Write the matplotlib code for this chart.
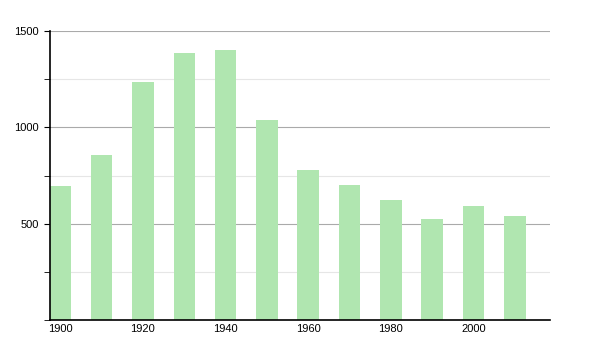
import matplotlib
matplotlib.use("Agg")
import matplotlib.pyplot as plt
from matplotlib.ticker import MultipleLocator

# population by decade
years = [1900, 1910, 1920, 1930, 1940, 1950, 1960, 1970, 1980, 1990, 2000, 2010]
values = [696, 857, 1236, 1386, 1402, 1038, 779, 701, 623, 524, 592, 540]
tick_years = [1900, 1920, 1940, 1960, 1980, 2000]

plt.rcParams['font.family'] = ['Liberation Sans', 'DejaVu Sans']

fig = plt.figure(figsize=(6, 3.5), dpi=100)
ax = fig.add_axes([0.0833, 0.0857, 0.8333, 0.8257])

ax.bar(years, values, width=5.2, color='#b0e6b0', zorder=2)

ax.set_xlim(1897.5, 2018.5)
ax.set_ylim(0, 1500)
ax.yaxis.set_major_locator(MultipleLocator(500))
ax.yaxis.set_minor_locator(MultipleLocator(250))
ax.set_yticks([500, 1000, 1500])
ax.set_xticks(tick_years)
ax.set_xticklabels([str(y) for y in tick_years])

ax.grid(axis='y', which='major', color='#aaaaaa', linewidth=0.8, zorder=1)
ax.grid(axis='y', which='minor', color='#e6e6e6', linewidth=0.8, zorder=1)
ax.set_axisbelow(True)

for s in ['top', 'right']:
    ax.spines[s].set_visible(False)
ax.spines['left'].set_color('black')
ax.spines['bottom'].set_color('black')
ax.spines['left'].set_linewidth(1.2)
ax.spines['bottom'].set_linewidth(1.2)

ax.tick_params(axis='x', length=0, labelsize=8, pad=3)
ax.tick_params(axis='y', which='major', length=4, labelsize=8, pad=4)
ax.tick_params(axis='y', which='minor', length=4)

fig.savefig("out.png", dpi=100)
